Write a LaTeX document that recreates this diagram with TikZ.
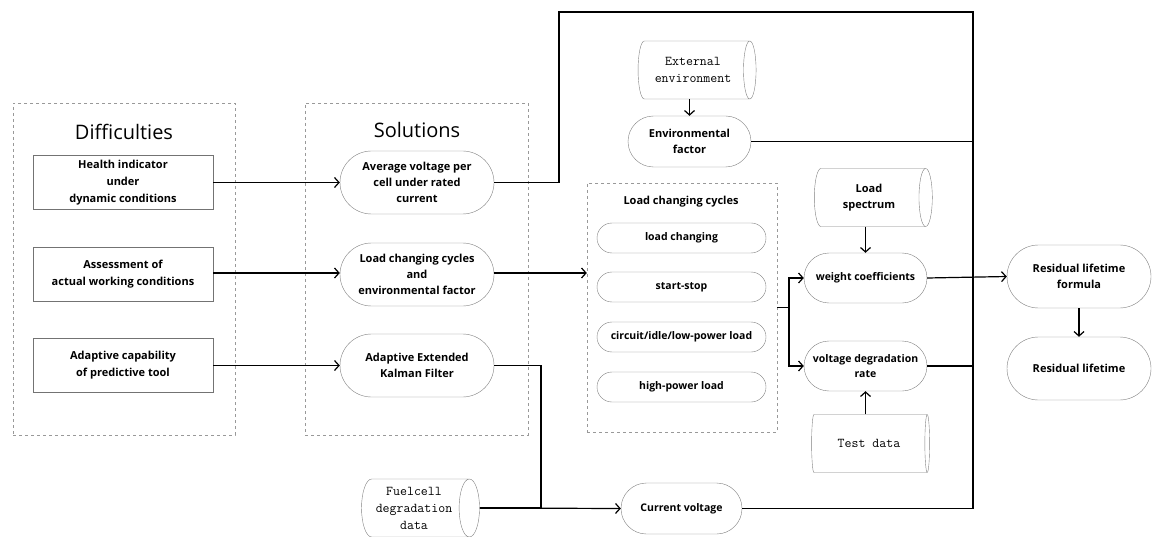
\documentclass[tikz,border=0pt]{standalone}
\usepackage{fontspec}
\setmainfont{Open Sans}
\usetikzlibrary{arrows.meta,shapes.geometric,shapes.misc}
\tikzset{
  grpbox/.style={draw=black!40,dashed,inner sep=0pt},
  diffbox/.style={draw=black!55,align=center,minimum width=180,minimum height=54,
    font=\fontsize{11}{17}\selectfont\bfseries},
  term/.style={rounded rectangle,draw=black!50,align=center,inner sep=1pt,
    font=\fontsize{11}{16}\selectfont\bfseries},
  store/.style={cylinder,shape aspect=.46,draw=black!50,align=center,inner sep=1pt,
    minimum width=58,minimum height=118,font=\fontsize{13.5}{17}\selectfont\ttfamily},
  wire/.style={line width=1.2pt},
  flow/.style={-{Straight Barb[length=4.5pt,width=10pt]},line width=1.2pt}
}

\begin{document}
\begin{tikzpicture}[x=1pt,y=-1pt]
  \useasboundingbox (0,0) rectangle (1158,537);
  % groups
  \node[grpbox,minimum width=222,minimum height=332] (dgrp) at (124,269) {};
  \node[grpbox,minimum width=223,minimum height=332] (sgrp) at (416.5,269) {};
  \node[grpbox,minimum width=190,minimum height=249] (lgrp) at (682,307.5) {};
  \node[font=\fontsize{20}{24}\selectfont] (dtitle) at (124,132) {Difficulties};
  \node[font=\fontsize{20}{24}\selectfont] (stitle) at (417,130) {Solutions};
  \node[font=\fontsize{11}{16}\selectfont\bfseries] (ltitle) at (681,202) {Load changing cycles};

  \node[diffbox] (d1) at (123,182.5) {Health indicator\\under\\dynamic conditions};
  \node[diffbox] (d2) at (123,274) {Assessment of\\actual working conditions};
  \node[diffbox] (d3) at (123,365.5) {Adaptive capability\\of predictive tool};

  \node[term,minimum width=156,minimum height=63] (s1) at (417,182.5) {Average voltage per\\cell under rated\\current};
  \node[term,minimum width=156,minimum height=63] (s2) at (417,274.5) {Load changing cycles\\and\\environmental factor};
  \node[term,minimum width=156,minimum height=63] (s3) at (417,365.5) {Adaptive Extended\\Kalman Filter};

  \node[term,minimum width=171,minimum height=30,font=\fontsize{10.5}{14}\selectfont\bfseries] (c1) at (681.5,238) {load changing};
  \node[term,minimum width=171,minimum height=30,font=\fontsize{10.5}{14}\selectfont\bfseries] (c2) at (681.5,287) {start-stop};
  \node[term,minimum width=171,minimum height=30,font=\fontsize{10.5}{14}\selectfont\bfseries] (c3) at (681.5,337) {circuit/idle/low-power load};
  \node[term,minimum width=171,minimum height=30,font=\fontsize{10.5}{14}\selectfont\bfseries] (c4) at (681.5,387) {high-power load};

  \node[store] (ext) at (693,70) {External\\environment};
  \node[term,minimum width=125,minimum height=51] (env) at (689.5,141.5) {Environmental\\factor};

  \node[store,font=\fontsize{11}{16}\selectfont\bfseries] (spec) at (869,197.5) {Load\\spectrum};
  \node[term,minimum width=125,minimum height=50,font=\fontsize{10.5}{15}\selectfont\bfseries] (wc) at (865.5,278) {weight coefficients};
  \node[term,minimum width=125,minimum height=50,font=\fontsize{10.5}{15}\selectfont\bfseries] (vdr) at (865.5,366) {voltage degradation\\rate};
  \node[store] (test) at (869,443.5) {Test data};

  \node[term,minimum width=146,minimum height=63] (rlf) at (1079,276.5) {Residual lifetime\\formula};
  \node[term,minimum width=146,minimum height=63] (rl) at (1079,368.5) {Residual lifetime};

  \node[store] (fuel) at (414,508) {Fuelcell\\degradation\\data};
  \node[term,minimum width=123,minimum height=51,font=\fontsize{10.5}{15}\selectfont\bfseries] (cv) at (681.5,508.5) {Current voltage};

  % connectors
  \coordinate (tl) at (559,12);
  \coordinate (tr) at (973,12);
  \coordinate (br) at (973,508.5);
  \coordinate (split) at (789,307.5);
  \coordinate (kf) at (541,365.5);
  \draw[flow] (d1.east) -- (s1.west);
  \draw[flow] (d2.east |- 0,273) -- (s2.west |- 0,273);
  \draw[flow] (d3) -- (s3);
  \draw[wire] (s1.east) -| (tl) -- (tr) -- (br) -- (cv.east);
  \draw[wire] (env.east) -- (env.east -| tr);
  \draw[flow] (ext.south -| env.north) -- (env.north);
  \draw[flow] (s2.east |- 0,273) -- (lgrp.west |- 0,273);
  \draw[wire] (lgrp.east) -- (split);
  \draw[flow] (split) |- (wc.west);
  \draw[flow] (split) |- (vdr.west);
  \draw[flow] (wc.north |- spec.south) -- (wc.north);
  \draw[flow] (vdr.south |- test.north) -- (vdr.south);
  \draw[flow] (wc.east) -- (rlf.west);
  \draw[wire] (vdr.east) -- (vdr.east -| tr);
  \draw[flow] (rlf.south) -- (rl.north);
  \draw[wire] (s3.east) -- (kf) |- (fuel.east);
  \draw[flow] (fuel.east) -- (cv.west);
\end{tikzpicture}
\end{document}
